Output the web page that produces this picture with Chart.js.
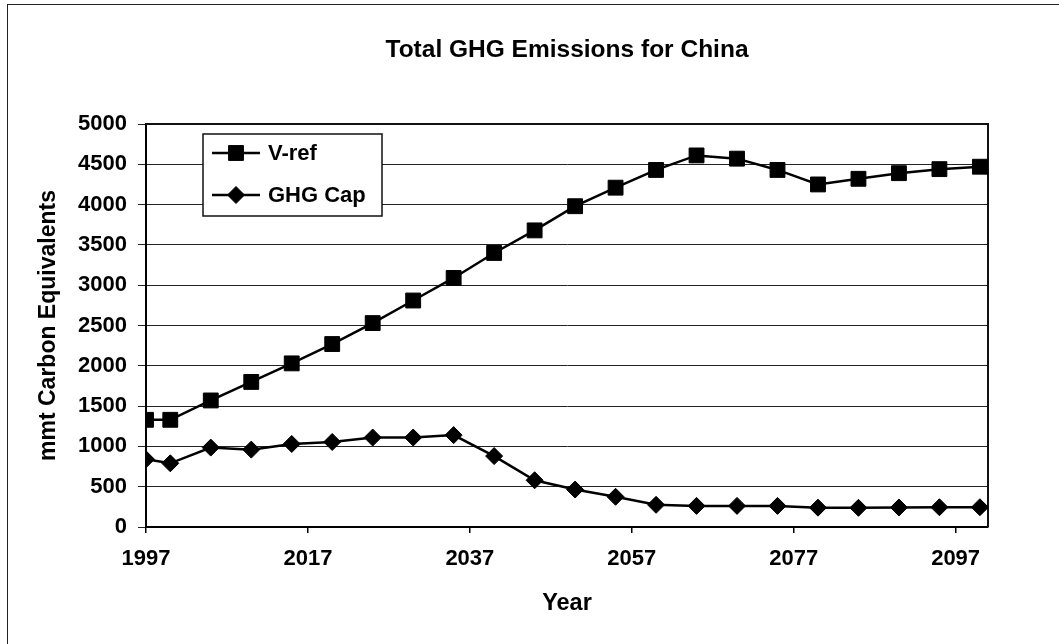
<!DOCTYPE html>
<html>
<head>
<meta charset="utf-8">
<title>Total GHG Emissions for China</title>
<script src="https://cdn.jsdelivr.net/npm/chart.js@4.4.0/dist/chart.umd.min.js"></script>
<style>
  html, body { margin: 0; padding: 0; background: #fff; }
  #wrap { width: 1059px; height: 644px; }
</style>
</head>
<body>
<div id="wrap"><canvas id="c" width="1059" height="644"></canvas></div>
<script>
// Years of the projection
const years = [1997, 2000, 2005, 2010, 2015, 2020, 2025, 2030, 2035, 2040, 2045,
               2050, 2055, 2060, 2065, 2070, 2075, 2080, 2085, 2090, 2095, 2100];

// Emissions, mmt carbon equivalents
const vRef = [1330, 1330, 1570, 1800, 2030, 2270, 2530, 2810, 3090, 3400, 3680,
              3980, 4210, 4430, 4610, 4570, 4430, 4250, 4320, 4390, 4440, 4470];
const ghgCap = [840, 790, 985, 960, 1030, 1055, 1110, 1110, 1140, 880, 580,
                465, 375, 275, 262, 262, 262, 240, 238, 242, 245, 245];

// Labelled year ticks on the horizontal axis
const yearTicks = [1997, 2017, 2037, 2057, 2077, 2097];

const FONT = "'Liberation Sans', Arial, sans-serif";

const toPoints = vals => vals.map((v, i) => ({ x: years[i], y: v }));

// White page, outer frame and plot-area border
const framePlugin = {
  id: 'frame',
  beforeDraw(chart) {
    const { ctx, width, height } = chart;
    ctx.save();
    ctx.fillStyle = '#fff';
    ctx.fillRect(0, 0, width, height);
    ctx.strokeStyle = '#222';
    ctx.lineWidth = 1;
    ctx.strokeRect(7.5, 4.5, width + 20, height + 20);
    ctx.restore();
  },
  beforeDatasetsDraw(chart) {
    const { ctx, chartArea: a } = chart;
    ctx.save();
    ctx.strokeStyle = '#111';
    ctx.lineWidth = 2;
    ctx.beginPath();
    ctx.moveTo(a.left, a.top);
    ctx.lineTo(a.right, a.top);
    ctx.lineTo(a.right, a.bottom);
    ctx.stroke();
    ctx.restore();
  }
};

// Boxed legend in the upper-left corner of the plot
const boxLegend = {
  id: 'boxLegend',
  afterDatasetsDraw(chart) {
    const { ctx, chartArea: a } = chart;
    const x0 = a.left + 57, y0 = a.top + 10, w = 179, h = 82;
    ctx.save();
    ctx.fillStyle = '#fff';
    ctx.fillRect(x0, y0, w, h);
    ctx.strokeStyle = '#111';
    ctx.lineWidth = 1.5;
    ctx.strokeRect(x0, y0, w, h);
    chart.data.datasets.forEach((ds, i) => {
      const cy = y0 + 19 + i * 42;
      ctx.strokeStyle = ds.borderColor;
      ctx.lineWidth = ds.borderWidth;
      ctx.beginPath();
      ctx.moveTo(x0 + 9, cy);
      ctx.lineTo(x0 + 57, cy);
      ctx.stroke();
      ctx.fillStyle = ds.pointBackgroundColor;
      ctx.strokeStyle = ds.pointBorderColor;
      ctx.lineWidth = 1;
      Chart.helpers.drawPoint(ctx, {
        pointStyle: ds.pointStyle, radius: ds.pointRadius, borderWidth: 1, rotation: 0
      }, x0 + 33, cy);
      ctx.fillStyle = '#000';
      ctx.font = `bold 22px ${FONT}`;
      ctx.textBaseline = 'middle';
      ctx.textAlign = 'left';
      ctx.fillText(ds.label, x0 + 65, cy + 1);
    });
    ctx.restore();
  }
};

new Chart(document.getElementById('c'), {
  type: 'line',
  data: {
    datasets: [
      {
        label: 'V-ref',
        data: toPoints(vRef),
        borderColor: '#000',
        borderWidth: 2.5,
        pointStyle: 'rect',
        pointRadius: 10.5,
        pointBackgroundColor: '#000',
        pointBorderColor: '#000',
        pointBorderWidth: 1,
        tension: 0
      },
      {
        label: 'GHG Cap',
        data: toPoints(ghgCap),
        borderColor: '#000',
        borderWidth: 2.5,
        pointStyle: 'rectRot',
        pointRadius: 8.5,
        pointBackgroundColor: '#000',
        pointBorderColor: '#000',
        pointBorderWidth: 1,
        tension: 0
      }
    ]
  },
  options: {
    responsive: false,
    animation: false,
    devicePixelRatio: 1,
    layout: { padding: { left: 10, right: 71, top: 0, bottom: 0 } },
    plugins: {
      legend: { display: false },
      tooltip: { enabled: false },
      title: {
        display: true,
        text: 'Total GHG Emissions for China',
        fullSize: false,
        color: '#000',
        font: { family: FONT, size: 24.5, weight: 'bold', lineHeight: 1.2 },
        padding: { top: 36, bottom: 58.6 }
      }
    },
    scales: {
      x: {
        type: 'linear',
        min: 1997,
        max: 2101,
        afterBuildTicks(scale) {
          scale.ticks = yearTicks.map(v => ({ value: v }));
        },
        afterFit(scale) { scale.height = 117; },
        border: { display: true, color: '#000', width: 2 },
        grid: {
          drawOnChartArea: false,
          drawTicks: true,
          tickLength: 6,
          color: '#000',
          lineWidth: 1.5
        },
        ticks: {
          color: '#000',
          padding: 13,
          maxRotation: 0,
          autoSkip: false,
          font: { family: FONT, size: 22, weight: 'bold' },
          callback: v => String(v)
        },
        title: {
          display: true,
          text: 'Year',
          color: '#000',
          font: { family: FONT, size: 23.5, weight: 'bold', lineHeight: 1.2 },
          padding: { top: 0, bottom: 26 }
        }
      },
      y: {
        min: 0,
        max: 5000,
        afterFit(scale) { scale.width = 136; },
        border: { display: true, color: '#000', width: 2 },
        grid: {
          color: '#222',
          lineWidth: 1,
          drawTicks: true,
          tickLength: 8
        },
        ticks: {
          stepSize: 500,
          color: '#000',
          padding: 11,
          font: { family: FONT, size: 22, weight: 'bold' },
          callback: v => String(v)
        },
        title: {
          display: true,
          text: 'mmt Carbon Equivalents',
          color: '#000',
          font: { family: FONT, size: 23, weight: 'bold', lineHeight: 1.2 },
          padding: { top: 25, bottom: 0 }
        }
      }
    }
  },
  plugins: [framePlugin, boxLegend]
});
</script>
</body>
</html>
